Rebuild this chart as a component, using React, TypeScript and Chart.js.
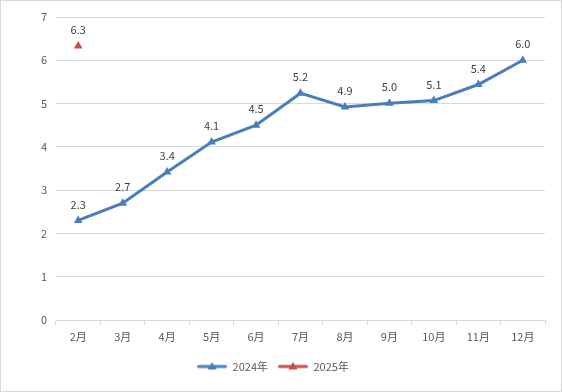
import React, { useEffect, useRef } from "react";
import { Chart, registerables } from "chart.js";

Chart.register(...registerables);

const categories = ["2月", "3月", "4月", "5月", "6月", "7月", "8月", "9月", "10月", "11月", "12月"];
const series2024 = [2.3, 2.7, 3.42, 4.11, 4.5, 5.24, 4.92, 5.01, 5.07, 5.44, 6.0];
const series2025 = [6.33, null, null, null, null, null, null, null, null, null, null];
const yTicks = [0, 1, 2, 3, 4, 5, 6, 7];

const BLUE = "#4a7ebb";
const RED = "#c0504d";
const FONT = "'Noto Sans CJK SC', 'Noto Sans', sans-serif";

function legendIcon(color: string): HTMLCanvasElement {
  const c = document.createElement("canvas");
  c.width = 30;
  c.height = 10;
  const ctx = c.getContext("2d")!;
  ctx.strokeStyle = color;
  ctx.lineWidth = 3;
  ctx.lineCap = "round";
  ctx.beginPath();
  ctx.moveTo(1.5, 5);
  ctx.lineTo(28.5, 5);
  ctx.stroke();
  ctx.fillStyle = color;
  ctx.beginPath();
  ctx.moveTo(15, 0.5);
  ctx.lineTo(19.5, 8);
  ctx.lineTo(10.5, 8);
  ctx.closePath();
  ctx.fill();
  return c;
}

const labelPlugin = {
  id: "valueLabels",
  afterDatasetsDraw(chart: any) {
    const ctx = chart.ctx;
    ctx.save();
    ctx.font = `11px ${FONT}`;
    ctx.fillStyle = "#404040";
    ctx.textAlign = "center";
    ctx.textBaseline = "middle";
    chart.data.datasets.forEach((ds: any, i: number) => {
      const meta = chart.getDatasetMeta(i);
      meta.data.forEach((pt: any, j: number) => {
        const v = ds.data[j];
        if (v === null || v === undefined) return;
        ctx.fillText(Number(v).toFixed(1), pt.x, pt.y - 16);
      });
    });
    ctx.restore();
  },
};

export default function App() {
  const ref = useRef<HTMLCanvasElement>(null);
  useEffect(() => {
    document.body.style.margin = "0";
    const icons = [legendIcon(BLUE), legendIcon(RED)];
    const chart = new Chart(ref.current!, {
      type: "line",
      data: {
        labels: categories,
        datasets: [
          {
            label: "2024年",
            data: series2024,
            borderColor: BLUE,
            backgroundColor: BLUE,
            borderWidth: 3,
            pointStyle: "triangle",
            pointRadius: 5,
            pointBorderWidth: 0,
            pointBackgroundColor: BLUE,
            tension: 0,
          },
          {
            label: "2025年",
            data: series2025,
            borderColor: RED,
            backgroundColor: RED,
            borderWidth: 3,
            pointStyle: "triangle",
            pointRadius: 5,
            pointBorderWidth: 0,
            pointBackgroundColor: RED,
          },
        ],
      },
      options: {
        animation: false,
        responsive: false,
        devicePixelRatio: 1,
        layout: { padding: { left: 0, right: 16, top: 16, bottom: 9 } },
        plugins: {
          tooltip: { enabled: false },
          legend: {
            position: "bottom",
            labels: {
              usePointStyle: true,
              pointStyleWidth: 30,
              padding: 10,
              color: "#595959",
              font: { size: 11, family: FONT },
              generateLabels: (c: any) =>
                c.data.datasets.map((ds: any, i: number) => ({
                  text: ds.label,
                  pointStyle: icons[i],
                  fillStyle: ds.borderColor,
                  strokeStyle: ds.borderColor,
                  lineWidth: 0,
                  fontColor: "#595959",
                  datasetIndex: i,
                  hidden: false,
                })),
            },
          },
        },
        scales: {
          x: {
            offset: true,
            grid: {
              offset: true,
              drawOnChartArea: false,
              drawTicks: true,
              tickLength: 5,
              color: "#d9d9d9",
            },
            border: { display: true, color: "#d9d9d9" },
            ticks: {
              color: "#595959",
              font: { size: 11, family: FONT },
              padding: 5,
              maxRotation: 0,
            },
            afterFit: (s: any) => {
              s.height = 31;
            },
          },
          y: {
            min: 0,
            max: 7,
            afterBuildTicks: (s: any) => {
              s.ticks = yTicks.map((v) => ({ value: v }));
            },
            grid: { color: "#d9d9d9", drawTicks: false },
            border: { display: false },
            ticks: {
              color: "#595959",
              font: { size: 11, family: FONT },
              padding: 9,
            },
            afterFit: (s: any) => {
              s.width = 55;
            },
          },
        },
      },
      plugins: [labelPlugin],
    });
    return () => chart.destroy();
  }, []);
  return (
    <div
      style={{
        width: 562,
        height: 392,
        border: "1px solid #d9d9d9",
        boxSizing: "border-box",
        position: "relative",
        background: "#fff",
      }}
    >
      <canvas ref={ref} width={560} height={390} style={{ display: "block" }} />
    </div>
  );
}
